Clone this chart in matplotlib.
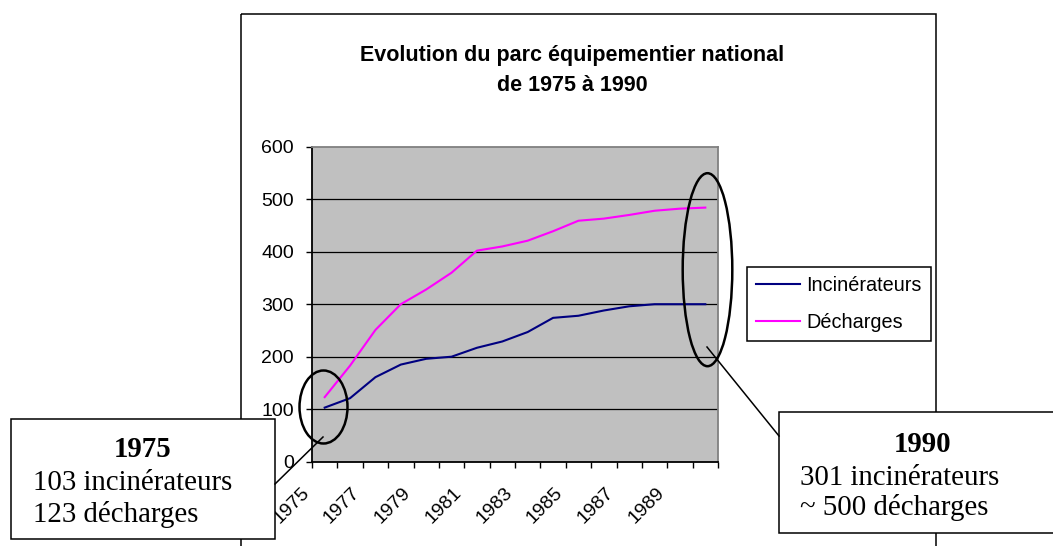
import matplotlib
matplotlib.use("Agg")
import matplotlib.pyplot as plt
import numpy as np
from matplotlib.patches import Ellipse, Rectangle
from matplotlib.lines import Line2D
from matplotlib.transforms import Affine2D, ScaledTranslation

# ---- data ----
years = list(range(1975, 1991))
incinerateurs = [103, 121, 161, 185, 196, 200, 217, 229, 247, 274, 278, 288, 296, 300, 300, 300]
decharges = [123, 183, 251, 300, 328, 360, 402, 410, 421, 439, 459, 463, 470, 478, 482, 484]
series_labels = ["Incinérateurs", "Décharges"]
title_lines = ["Evolution du parc équipementier national", "de 1975 à 1990"]
yticks = [0, 100, 200, 300, 400, 500, 600]
box_left = ["1975", "103 incinérateurs", "123 décharges"]
box_right = ["1990", "301 incinérateurs", "~ 500 décharges"]

W, H, DPI = 1053, 546, 100
plt.rcParams['font.family'] = ['Liberation Sans', 'DejaVu Sans']
fig = plt.figure(figsize=(W / DPI, H / DPI), dpi=DPI)
fig.patch.set_facecolor('white')

# pixel transform (origin top-left)
T = Affine2D().scale(1 / DPI, -1 / DPI).translate(0, H / DPI) + fig.dpi_scale_trans

# outer chart border (bottom lies beyond the image)
fig.patches.append(Rectangle((241, 14), 936 - 241, 560, transform=T, fill=False,
                             edgecolor='black', linewidth=1.1, zorder=1))

# axes
L, R, TOP, BOT = 312, 718, 146.7, 461.7
ax = fig.add_axes([L / W, 1 - BOT / H, (R - L) / W, (BOT - TOP) / H])
ax.set_facecolor('#C0C0C0')
x = np.arange(len(years))
ax.plot(x, incinerateurs, color='#000080', linewidth=1.5, label=series_labels[0], zorder=3)
ax.plot(x, decharges, color='#FF00FF', linewidth=1.5, label=series_labels[1], zorder=3)
ax.set_xlim(-0.5, len(years) - 0.5)
ax.set_ylim(0, 600)
ax.set_yticks(yticks)
ax.set_yticklabels([str(v) for v in yticks], fontsize=14)
for v in yticks[1:-1]:
    ax.axhline(v, color='black', linewidth=0.9, zorder=2)
ax.tick_params(axis='y', direction='out', length=4.5, width=1, pad=8.5)
ax.set_xticks(np.arange(-0.5, len(years)), labels=[''] * (len(years) + 1))
ax.tick_params(axis='x', which='major', direction='out', length=4, width=1)
ax.set_xticks(x[::2], minor=True)
ax.set_xticklabels([str(years[i]) for i in x[::2]], minor=True, fontsize=14,
                   rotation=45, ha='right', va='top')
ax.tick_params(axis='x', which='minor', length=0, pad=16)
off = ScaledTranslation(-12 / DPI, 0, fig.dpi_scale_trans)
for lbl in ax.get_xticklabels(minor=True):
    lbl.set_transform(lbl.get_transform() + off)
for s in ['left', 'bottom']:
    ax.spines[s].set_color('black')
    ax.spines[s].set_linewidth(1.3)
for s in ['top', 'right']:
    ax.spines[s].set_color('#808080')
    ax.spines[s].set_linewidth(1.3)

# title
fig.text(572 / W, 1 - 61 / H, title_lines[0], ha='center', va='baseline',
         fontsize=15.5, fontweight='bold', transform=fig.transFigure)
fig.text(572 / W, 1 - 91 / H, title_lines[1], ha='center', va='baseline',
         fontsize=15.5, fontweight='bold', transform=fig.transFigure)

# legend
leg = fig.legend(loc='upper left', bbox_to_anchor=(747 / W, 1 - 267 / H),
                 bbox_transform=fig.transFigure, borderaxespad=0, fontsize=14.3,
                 frameon=True, fancybox=False, edgecolor='black', framealpha=1,
                 handlelength=2.2, handletextpad=0.35, labelspacing=0.9, borderpad=0.45)
leg.get_frame().set_linewidth(1.1)

# annotation boxes
serif = ['Liberation Serif', 'DejaVu Serif']
fig.patches.append(Rectangle((11, 419), 275 - 11, 539 - 419, transform=T, facecolor='white',
                             edgecolor='black', linewidth=1.1, zorder=5))
fig.patches.append(Rectangle((779, 412), 1070 - 779, 533 - 412, transform=T, facecolor='white',
                             edgecolor='black', linewidth=1.1, zorder=5))
fig.text(143, 456.7, box_left[0], transform=T, ha='center', va='baseline', family=serif,
         fontsize=20.8, fontweight='bold', zorder=6)
fig.text(33, 490, box_left[1], transform=T, ha='left', va='baseline', family=serif,
         fontsize=20.8, zorder=6)
fig.text(33, 521.7, box_left[2], transform=T, ha='left', va='baseline', family=serif,
         fontsize=20.8, zorder=6)
fig.text(923, 451.7, box_right[0], transform=T, ha='center', va='baseline', family=serif,
         fontsize=20.8, fontweight='bold', zorder=6)
fig.text(800, 485, box_right[1], transform=T, ha='left', va='baseline', family=serif,
         fontsize=20.8, zorder=6)
fig.text(800, 515, box_right[2], transform=T, ha='left', va='baseline', family=serif,
         fontsize=20.8, zorder=6)

# ellipses and connectors
fig.patches.append(Ellipse((323.5, 407), 48, 73, transform=T, fill=False,
                           edgecolor='black', linewidth=1.8, zorder=7))
fig.patches.append(Ellipse((707.5, 269.7), 49.6, 193, transform=T, fill=False,
                           edgecolor='black', linewidth=1.8, zorder=7))
fig.lines.append(Line2D([275, 323], [484, 437], transform=T, color='black', linewidth=1.1, zorder=7))
fig.lines.append(Line2D([779, 707], [436, 347], transform=T, color='black', linewidth=1.1, zorder=7))

fig.savefig('out.png', dpi=DPI)
